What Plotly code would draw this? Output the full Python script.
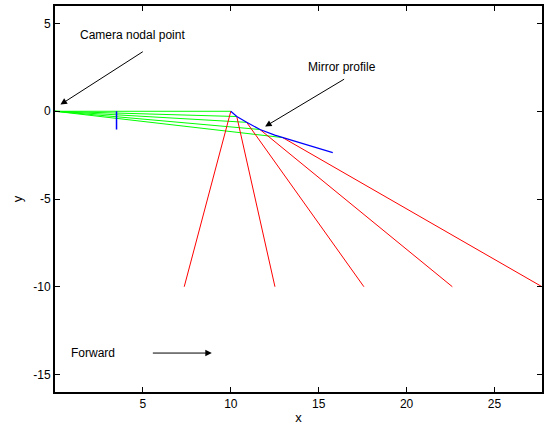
import plotly.graph_objects as go

# Mirror profile (blue curve)
mirror_x = [10.0, 10.34, 10.9, 11.66, 12.5, 13.3, 14.5, 15.8]
mirror_y = [0.0, -0.30, -0.63, -1.04, -1.36, -1.61, -1.98, -2.36]

# Points on the mirror hit by rays
hit_x = [10.0, 10.34, 10.9, 11.66, 12.95]
hit_y = [0.0, -0.30, -0.63, -1.04, -1.50]

# Reflected rays reach y = -10 at these x
ground_x = [7.35, 12.51, 17.57, 22.6, 27.7]
ground_y = -10.0

camera = (0.0, 0.0)

# Small vertical line (image plane)
plane_x = [3.5, 3.5]
plane_y = [0.0, -1.04]

x_ticks = [5, 10, 15, 20, 25]
y_ticks = [5, 0, -5, -10, -15]

FONT = "Liberation Sans, Arial, sans-serif"

fig = go.Figure()

# Green incoming rays
for hx, hy in zip(hit_x, hit_y):
    fig.add_trace(go.Scatter(x=[camera[0], hx], y=[camera[1], hy], mode="lines",
                             line=dict(color="#00ff00", width=1), showlegend=False, hoverinfo="skip"))

# Red reflected rays
for hx, hy, gx in zip(hit_x, hit_y, ground_x):
    fig.add_trace(go.Scatter(x=[hx, gx], y=[hy, ground_y], mode="lines",
                             line=dict(color="#ff0000", width=1), showlegend=False, hoverinfo="skip"))

# Mirror profile
fig.add_trace(go.Scatter(x=mirror_x, y=mirror_y, mode="lines",
                         line=dict(color="#0000ff", width=1.2), showlegend=False, hoverinfo="skip"))

# Image plane
fig.add_trace(go.Scatter(x=plane_x, y=plane_y, mode="lines",
                         line=dict(color="#0000ff", width=1.5), showlegend=False, hoverinfo="skip"))

# Text labels
texts = [("Camera nodal point", 4.4, 4.36), ("Mirror profile", 16.3, 2.5), ("Forward", 2.16, -13.75)]
for t, tx, ty in texts:
    fig.add_annotation(x=tx, y=ty, text=t, showarrow=False, xref="x", yref="y",
                       font=dict(family=FONT, size=12, color="black"))

# Arrows (tail -> head)
arrows = [((5.08, 3.45), (0.31, 0.38)), ((16.53, 1.88), (11.95, -0.87)), ((5.48, -13.78), (8.92, -13.78))]
for (tx, ty), (hx, hy) in arrows:
    fig.add_annotation(x=hx, y=hy, ax=tx, ay=ty, xref="x", yref="y", axref="x", ayref="y",
                       text="", showarrow=True, arrowhead=2, arrowsize=1.3, arrowwidth=1,
                       arrowcolor="black", standoff=0, startstandoff=0)

axis_common = dict(showline=True, linecolor="black", linewidth=1.8, mirror="ticks",
                   ticks="inside", ticklen=5, tickcolor="black", tickwidth=1,
                   showgrid=False, zeroline=False, automargin=False,
                   tickfont=dict(family=FONT, size=12, color="black"))

fig.update_xaxes(range=[0, 27.7], tickvals=x_ticks, ticktext=[str(v) for v in x_ticks],
                 title=dict(text="x", font=dict(family=FONT, size=13, color="black"), standoff=3),
                 **axis_common)
fig.update_yaxes(range=[-16, 6], tickvals=y_ticks, ticktext=[str(v) for v in y_ticks],
                 title=dict(text="y", font=dict(family=FONT, size=13, color="black"), standoff=8),
                 **axis_common)

fig.update_layout(width=545, height=428, margin=dict(l=55, r=3, t=6, b=36),
                  plot_bgcolor="white", paper_bgcolor="white", showlegend=False)

fig.write_html("out.html", config={"displayModeBar": False},
               post_script="document.body.style.margin='0';")
